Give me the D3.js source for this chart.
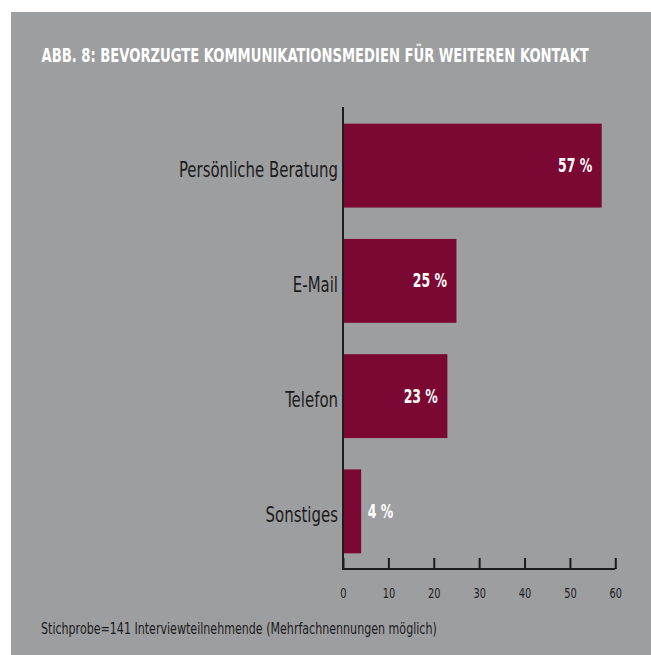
<!DOCTYPE html>
<html>
<head>
<meta charset="utf-8">
<script src="https://cdn.jsdelivr.net/npm/d3@7"></script>
<style>
  html, body { margin: 0; padding: 0; background: #ffffff; }
  svg { display: block; }
  text { font-family: "DejaVu Sans Condensed", "DejaVu Sans", sans-serif; }
</style>
</head>
<body>
<svg id="chart" width="651" height="655"></svg>
<script>
// Chart data
const categories = ["Persönliche Beratung", "E-Mail", "Telefon", "Sonstiges"];
const shares = [57, 25, 23, 4];
const tickValues = [0, 10, 20, 30, 40, 50, 60];
const titleText = "ABB. 8: BEVORZUGTE KOMMUNIKATIONSMEDIEN FÜR WEITEREN KONTAKT";
const noteText = "Stichprobe=141 Interviewteilnehmende (Mehrfachnennungen möglich)";

const W = 651, H = 655;
const panelColor = "#9d9ea0";
const barColor = "#7a0833";
const inkColor = "#1c1c1c";

// squeeze text horizontally to get a narrow, gothic-condensed look
function condense(sel, f) {
  sel.each(function () {
    const w = this.getComputedTextLength();
    d3.select(this)
      .attr("textLength", (w * f).toFixed(1))
      .attr("lengthAdjust", "spacingAndGlyphs");
  });
}

// place a text line at (x, y) and scale it horizontally to a given width
function fitLine(parent, x, y, width, attrs, str) {
  const gg = parent.append("g");
  const t = gg.append("text").attr("x", 0).attr("y", 0).text(str);
  Object.entries(attrs).forEach(([k, v]) => t.attr(k, v));
  const w = t.node().getComputedTextLength();
  gg.attr("transform", `translate(${x},${y}) scale(${(width / w).toFixed(4)},1)`);
  return t;
}

const svg = d3.select("#chart");

// grey panel
svg.append("rect")
  .attr("x", 11).attr("y", 12)
  .attr("width", W - 11).attr("height", H - 12)
  .attr("fill", panelColor);

// title
fitLine(svg, 41.5, 62, 548,
  { fill: "#ffffff", "font-size": 19, "font-weight": "bold" }, titleText);

// scales
const x = d3.scaleLinear().domain([0, 60]).range([343, 615.3]);
const y = d3.scaleBand().domain(categories).range([108, 569])
  .paddingInner(0.272).paddingOuter(0.136);

const g = svg.append("g");

// bars
g.selectAll("rect.bar")
  .data(categories)
  .join("rect")
  .attr("class", "bar")
  .attr("x", x(0))
  .attr("y", d => y(d))
  .attr("width", (d, i) => x(shares[i]) - x(0))
  .attr("height", y.bandwidth())
  .attr("fill", barColor);

// value labels
g.selectAll("text.val")
  .data(categories)
  .join("text")
  .attr("class", "val")
  .attr("x", (d, i) => shares[i] < 10 ? x(shares[i]) + 6.5 : x(shares[i]) - 9.5)
  .attr("y", d => y(d) + y.bandwidth() / 2 + 6.5)
  .attr("text-anchor", (d, i) => shares[i] < 10 ? "start" : "end")
  .attr("fill", "#ffffff")
  .attr("font-size", 19)
  .attr("font-weight", "bold")
  .text((d, i) => shares[i] + " %")
  .call(condense, 0.73);

// category labels
g.selectAll("text.cat")
  .data(categories)
  .join("text")
  .attr("class", "cat")
  .attr("x", 338)
  .attr("y", d => y(d) + y.bandwidth() / 2 + 11)
  .attr("text-anchor", "end")
  .attr("fill", inkColor)
  .attr("font-size", 22)
  .text(d => d)
  .call(condense, 0.755);

// x axis with inward ticks
const xAxis = d3.axisBottom(x).tickValues(tickValues).tickSize(0).tickPadding(0);
const axG = svg.append("g").attr("transform", "translate(0,569)").call(xAxis);
axG.select(".domain").remove();
axG.selectAll(".tick line").remove();
axG.selectAll(".tick")
  .append("line")
  .attr("y1", 0).attr("y2", -11)
  .attr("stroke", inkColor).attr("stroke-width", 2);
axG.selectAll(".tick text")
  .attr("y", 29)
  .attr("dy", 0)
  .attr("fill", inkColor)
  .attr("font-size", 14)
  .attr("font-family", "DejaVu Sans Condensed, sans-serif")
  .call(condense, 0.78);

// axis lines
svg.append("line")
  .attr("x1", x(0)).attr("x2", x(60))
  .attr("y1", 569).attr("y2", 569)
  .attr("stroke", inkColor).attr("stroke-width", 2.2);
svg.append("line")
  .attr("x1", x(0)).attr("x2", x(0))
  .attr("y1", 107).attr("y2", 570)
  .attr("stroke", inkColor).attr("stroke-width", 2);

// footnote
fitLine(svg, 41, 634, 396,
  { fill: inkColor, "font-size": 15 }, noteText);
</script>
</body>
</html>
